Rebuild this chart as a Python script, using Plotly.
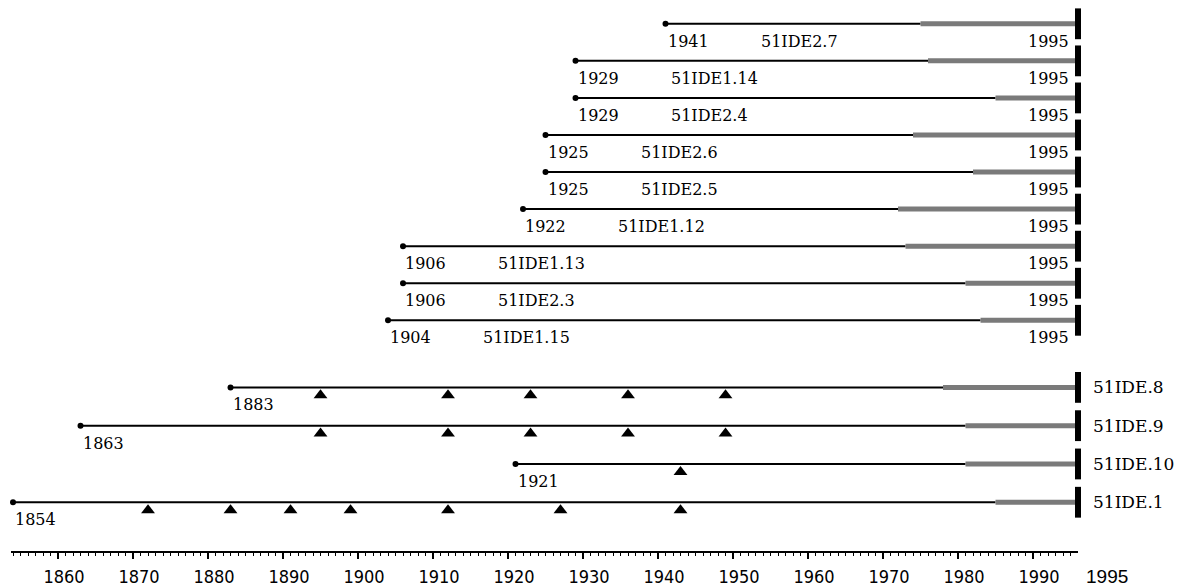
import plotly.graph_objects as go

# upper block: series running to 1995, name printed under the line
top_names = ["51IDE2.7", "51IDE1.14", "51IDE2.4", "51IDE2.6", "51IDE2.5",
             "51IDE1.12", "51IDE1.13", "51IDE2.3", "51IDE1.15"]
top_start = [1941, 1929, 1929, 1925, 1925, 1922, 1906, 1906, 1904]
top_hatch = [1975, 1976, 1985, 1974, 1982, 1972, 1973, 1981, 1983]
top_end = [1995, 1995, 1995, 1995, 1995, 1995, 1995, 1995, 1995]

# lower block: series with event markers, name printed right of the bar
bottom_names = ["51IDE.8", "51IDE.9", "51IDE.10", "51IDE.1"]
bottom_start = [1883, 1863, 1921, 1854]
bottom_hatch = [1978, 1981, 1981, 1985]
bottom_end = [1995, 1995, 1995, 1995]
bottom_events = [
    [1895, 1912, 1923, 1936, 1949],
    [1895, 1912, 1923, 1936, 1949],
    [1943],
    [1872, 1883, 1891, 1899, 1912, 1927, 1943],
]

tick_years = list(range(1860, 2000, 10))
axis_first = 1854
axis_last = 1995

# layout helpers
W, H = 1192, 587
ROW_PX = 37.4
top_rows = list(range(len(top_names)))
bottom_rows = [9.81 + 1.033 * i for i in range(len(bottom_names))]
SERIF = "DejaVu Serif"

fig = go.Figure()


def add_series(starts, hatches, ends, rows):
    sx, sy, hx, hy = [], [], [], []
    for s, h, e, r in zip(starts, hatches, ends, rows):
        sx += [s, h, None]
        sy += [r, r, None]
        hx += [h, e + 1, None]
        hy += [r, r, None]
    fig.add_trace(go.Scatter(x=sx, y=sy, mode="lines",
                             line=dict(color="black", width=2), hoverinfo="skip"))
    fig.add_trace(go.Scatter(x=hx, y=hy, mode="lines",
                             line=dict(color="#7a7a7a", width=5), hoverinfo="skip"))
    fig.add_trace(go.Scatter(x=starts, y=rows, mode="markers",
                             marker=dict(symbol="circle", size=6, color="black"),
                             cliponaxis=False, hoverinfo="skip"))
    fig.add_trace(go.Scatter(x=[e + 1 for e in ends], y=rows, mode="markers",
                             marker=dict(symbol="line-ns", size=22,
                                         line=dict(color="black", width=6)),
                             cliponaxis=False, hoverinfo="skip"))
    for s, r in zip(starts, rows):
        fig.add_annotation(x=s, y=r, text=str(s), showarrow=False,
                           xanchor="left", yanchor="top", yshift=-6,
                           font=dict(family=SERIF, size=16, color="black"))


add_series(top_start, top_hatch, top_end, top_rows)
add_series(bottom_start, bottom_hatch, bottom_end, bottom_rows)

for name, s, e, r in zip(top_names, top_start, top_end, top_rows):
    fig.add_annotation(x=s, y=r, text=name, showarrow=False, xshift=93,
                       xanchor="left", yanchor="top", yshift=-6,
                       font=dict(family=SERIF, size=16, color="black"))
    fig.add_annotation(x=e, y=r, text=str(e), showarrow=False,
                       xanchor="right", yanchor="top", yshift=-6,
                       font=dict(family=SERIF, size=16, color="black"))

tri_x, tri_y = [], []
for ev, r in zip(bottom_events, bottom_rows):
    tri_x += ev
    tri_y += [r + 8 / ROW_PX] * len(ev)
fig.add_trace(go.Scatter(x=tri_x, y=tri_y, mode="markers",
                         marker=dict(symbol="triangle-up", size=12, color="black"),
                         hoverinfo="skip"))

for name, e, r in zip(bottom_names, bottom_end, bottom_rows):
    fig.add_annotation(x=e + 1, y=r, text=name, showarrow=False, xshift=13,
                       xanchor="left", yanchor="middle",
                       font=dict(family=SERIF, size=17, color="black"))

# end label of the time axis
fig.add_annotation(x=axis_last, xref="x", y=0, yref="paper", text=str(axis_last),
                   showarrow=False, xanchor="left", yanchor="top", xshift=13, yshift=-13,
                   font=dict(family="Liberation Sans", size=19, color="black"))

plot_h = H - 31
fig.update_layout(
    width=W,
    height=H,
    margin=dict(l=11, r=114, t=0, b=31),
    paper_bgcolor="white",
    plot_bgcolor="white",
    showlegend=False,
    xaxis=dict(
        range=[1853.73, 1996.0],
        showgrid=False,
        zeroline=False,
        showline=True,
        linecolor="black",
        linewidth=2,
        ticks="outside",
        ticklen=6,
        tickwidth=1.5,
        tickcolor="black",
        tickvals=tick_years,
        ticktext=[str(t) for t in tick_years],
        ticklabelshift=6,
        ticklabelstandoff=2,
        tickfont=dict(family="Liberation Sans Narrow, DejaVu Sans Condensed", size=18,
                      color="black"),
        minor=dict(tickvals=list(range(axis_first, axis_last + 1)), ticks="outside",
                   ticklen=3, tickwidth=1, tickcolor="black"),
        fixedrange=True,
    ),
    yaxis=dict(
        range=[-0.642 + plot_h / ROW_PX, -0.642],
        visible=False,
        fixedrange=True,
    ),
)

fig.write_html("out.html", config={"displayModeBar": False},
               post_script="document.body.style.margin = '0';")
